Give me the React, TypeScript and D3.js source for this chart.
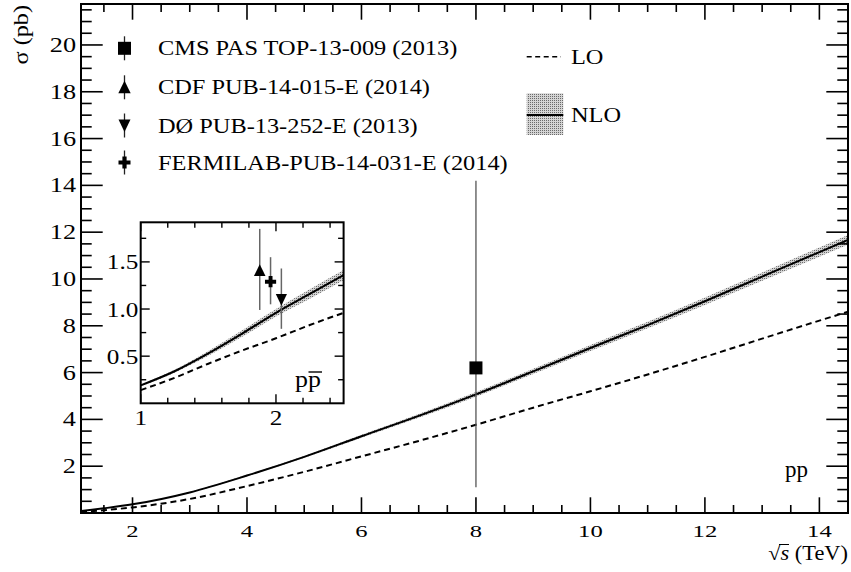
import React from "react";
import * as d3 from "d3";

const W = 851;
const H = 572;
const FONT = "'Liberation Serif', 'Times New Roman', serif";

// s-channel single-top cross sections, pp collisions (pb)
const energies = [1.1, 1.5, 2, 3, 4, 5, 6, 7, 8, 9, 10, 11, 12, 13, 14, 14.5];
const nloXsec = [0.08, 0.2, 0.37, 0.88, 1.6, 2.4, 3.28, 4.15, 5.07, 6.05, 7.05, 8.03, 9.05, 10.1, 11.15, 11.67];
const nloHigh = [0.085, 0.205, 0.378, 0.9, 1.63, 2.44, 3.34, 4.23, 5.17, 6.16, 7.18, 8.17, 9.21, 10.28, 11.35, 11.88];
const nloLow = [0.075, 0.195, 0.362, 0.865, 1.57, 2.36, 3.22, 4.07, 4.97, 5.94, 6.92, 7.89, 8.89, 9.92, 10.95, 11.46];
const loXsec = [0.04, 0.12, 0.24, 0.6, 1.15, 1.76, 2.42, 3.08, 3.77, 4.5, 5.2, 5.92, 6.67, 7.45, 8.22, 8.6];

// p-pbar collisions (inset)
const tevEnergies = [1.0, 1.25, 1.5, 1.75, 2.0, 2.25, 2.5];
const tevNlo = [0.19, 0.34, 0.53, 0.74, 0.96, 1.16, 1.36];
const tevNloHigh = [0.2, 0.355, 0.555, 0.775, 1.0, 1.21, 1.415];
const tevNloLow = [0.18, 0.325, 0.505, 0.705, 0.92, 1.11, 1.305];
const tevLo = [0.14, 0.27, 0.42, 0.56, 0.69, 0.83, 0.96];

// measurements
const measLabels = [
  "CMS PAS TOP-13-009 (2013)",
  "CDF PUB-14-015-E (2014)",
  "DØ PUB-13-252-E (2013)",
  "FERMILAB-PUB-14-031-E (2014)",
];
const measShapes = ["square", "up", "down", "cross"];
const measEnergy = [8, 1.88, 2.04, 1.96];
const measValue = [6.2, 1.41, 1.1, 1.29];
const measErrUp = [8.0, 0.44, 0.33, 0.26];
const measErrDown = [5.1, 0.42, 0.31, 0.24];
const measInInset = [false, true, true, true];

const xTicks = [2, 4, 6, 8, 10, 12, 14];
const yTicks = [2, 4, 6, 8, 10, 12, 14, 16, 18, 20];
const insetXTicks = [1, 2];
const insetYTicks = [0.5, 1.0, 1.5];

type TxtProps = {
  x: number;
  y: number;
  size: number;
  sx?: number;
  anchor?: "start" | "middle" | "end";
  rotate?: number;
  children: React.ReactNode;
};

function Txt({ x, y, size, sx = 1, anchor = "start", rotate = 0, children }: TxtProps) {
  return (
    <text
      transform={`translate(${x},${y}) rotate(${rotate}) scale(${sx},1)`}
      textAnchor={anchor}
      fontSize={size}
      fontFamily={FONT}
      fill="#000"
    >
      {children}
    </text>
  );
}

function Marker({ shape, cx, cy, s = 1 }: { shape: string; cx: number; cy: number; s?: number }) {
  if (shape === "square") {
    return <rect x={cx - 6.5 * s} y={cy - 6.5 * s} width={13 * s} height={13 * s} fill="#000" />;
  }
  if (shape === "up") {
    return (
      <polygon
        points={`${cx},${cy - 6.5 * s} ${cx + 6.2 * s},${cy + 6 * s} ${cx - 6.2 * s},${cy + 6 * s}`}
        fill="#000"
      />
    );
  }
  if (shape === "down") {
    return (
      <polygon
        points={`${cx},${cy + 6.5 * s} ${cx + 6 * s},${cy - 6 * s} ${cx - 6 * s},${cy - 6 * s}`}
        fill="#000"
      />
    );
  }
  const a = 6 * s;
  const t = 2.1 * s;
  return (
    <path
      d={`M${cx - t},${cy - a}H${cx + t}V${cy - t}H${cx + a}V${cy + t}H${cx + t}V${cy + a}H${cx - t}V${cy + t}H${cx - a}V${cy - t}H${cx - t}Z`}
      fill="#000"
    />
  );
}

export default function App() {
  // main frame
  const L = 81, R = 848, T = 4, B = 513;
  const x = d3.scaleLinear().domain([1.1, 14.5]).range([L, R]);
  const y = d3.scaleLinear().domain([0, 21.75]).range([B, T]);

  // inset frame
  const iL = 140.7, iR = 343.6, iT = 222.3, iB = 403.3;
  const ix = d3.scaleLinear().domain([1, 2.5]).range([iL, iR]);
  const iy = d3.scaleLinear().domain([0, 1.92]).range([iB, iT]);

  const idx = energies.map((_, i) => i);
  const tidx = tevEnergies.map((_, i) => i);

  const lineMain = (vals: number[]) =>
    d3.line<number>().x((i) => x(energies[i])).y((i) => y(vals[i])).curve(d3.curveMonotoneX)(idx) || "";
  const bandMain =
    d3
      .area<number>()
      .x((i) => x(energies[i]))
      .y0((i) => y(nloLow[i]))
      .y1((i) => y(nloHigh[i]))
      .curve(d3.curveMonotoneX)(idx) || "";

  const lineTev = (vals: number[]) =>
    d3.line<number>().x((i) => ix(tevEnergies[i])).y((i) => iy(vals[i])).curve(d3.curveMonotoneX)(tidx) || "";
  const bandTev =
    d3
      .area<number>()
      .x((i) => ix(tevEnergies[i]))
      .y0((i) => iy(tevNloLow[i]))
      .y1((i) => iy(tevNloHigh[i]))
      .curve(d3.curveMonotoneX)(tidx) || "";

  const xMinor = d3.range(1.5, 14.5, 0.5).filter((v) => Math.abs(v / 2 - Math.round(v / 2)) > 1e-6);
  const yMinor = d3.range(0.5, 21.75, 0.5).filter((v) => Math.abs(v / 2 - Math.round(v / 2)) > 1e-6);
  const ixMinor = d3.range(1.2, 2.5, 0.2).filter((v) => Math.abs(v - 2) > 1e-6);
  const iyMinor = [0.25, 0.75, 1.25, 1.75];

  const xMajLen = 15.7, xMinLen = 8;
  const yMajLen = 21.7, yMinLen = 10.7;
  const iMaj = 9, iMin = 5.5;

  const legRows = [48.3, 87.3, 125.5, 162.5];

  return (
    <svg width={W} height={H} style={{ position: "absolute", left: 0, top: 0, background: "#fff" }}>
      <defs>
        <pattern id="stipple" width="2" height="2" patternUnits="userSpaceOnUse">
          <rect width="2" height="2" fill="#d4d4d4" />
          <rect width="1" height="1" fill="#6a6a6a" />
        </pattern>
        <clipPath id="mainClip">
          <rect x={L} y={T} width={R - L} height={B - T} />
        </clipPath>
        <clipPath id="insetClip">
          <rect x={iL} y={iT} width={iR - iL} height={iB - iT} />
        </clipPath>
      </defs>
      <rect width={W} height={H} fill="#fff" />

      {/* main curves */}
      <g clipPath="url(#mainClip)">
        <path d={bandMain} fill="url(#stipple)" />
        <path d={lineMain(loXsec)} fill="none" stroke="#000" strokeWidth={2} strokeDasharray="6,4" />
        <path d={lineMain(nloXsec)} fill="none" stroke="#000" strokeWidth={2} />
      </g>

      {/* pp measurement */}
      {measEnergy.map((e, i) =>
        measInInset[i] ? null : (
          <g key={`m${i}`}>
            <line
              x1={x(e)}
              x2={x(e)}
              y1={y(measValue[i] + measErrUp[i])}
              y2={y(measValue[i] - measErrDown[i])}
              stroke="#555"
              strokeWidth={1.3}
            />
            <Marker shape={measShapes[i]} cx={x(e)} cy={y(measValue[i])} />
          </g>
        )
      )}

      {/* main frame ticks */}
      <g stroke="#000" strokeWidth={1.6}>
        {xTicks.map((v) => (
          <g key={`xt${v}`}>
            <line x1={x(v)} x2={x(v)} y1={B} y2={B - xMajLen} />
            <line x1={x(v)} x2={x(v)} y1={T} y2={T + xMajLen} />
          </g>
        ))}
        {xMinor.map((v) => (
          <g key={`xm${v}`}>
            <line x1={x(v)} x2={x(v)} y1={B} y2={B - xMinLen} />
            <line x1={x(v)} x2={x(v)} y1={T} y2={T + xMinLen} />
          </g>
        ))}
        {yTicks.map((v) => (
          <g key={`yt${v}`}>
            <line x1={L} x2={L + yMajLen} y1={y(v)} y2={y(v)} />
            <line x1={R} x2={R - yMajLen} y1={y(v)} y2={y(v)} />
          </g>
        ))}
        {yMinor.map((v) => (
          <g key={`ym${v}`}>
            <line x1={L} x2={L + yMinLen} y1={y(v)} y2={y(v)} />
            <line x1={R} x2={R - yMinLen} y1={y(v)} y2={y(v)} />
          </g>
        ))}
      </g>
      <rect x={L} y={T} width={R - L} height={B - T} fill="none" stroke="#000" strokeWidth={2} />

      {/* axis labels */}
      {xTicks.map((v) => (
        <Txt key={`xl${v}`} x={x(v)} y={537} size={17} sx={1.45} anchor="middle">
          {v}
        </Txt>
      ))}
      {yTicks.map((v) => (
        <Txt key={`yl${v}`} x={76} y={y(v) + 7} size={21} sx={1.25} anchor="end">
          {v}
        </Txt>
      ))}
      <text
        transform={`translate(${R},560) scale(1.12,1)`}
        textAnchor="end"
        fontSize={20}
        fontFamily={FONT}
      >
        <tspan>√</tspan>
        <tspan fontStyle="italic">s</tspan>
        <tspan> (TeV)</tspan>
      </text>
      <line x1={779} x2={789} y1={544.5} y2={544.5} stroke="#000" strokeWidth={1} />
      <Txt x={28} y={5} size={22} rotate={-90} sx={1.1} anchor="end">
        σ (pb)
      </Txt>
      <Txt x={808} y={476.7} size={23} anchor="end">
        pp
      </Txt>

      {/* measurement legend */}
      {measLabels.map((lab, i) => (
        <g key={`lg${i}`}>
          <line x1={124.5} x2={124.5} y1={legRows[i] - 12} y2={legRows[i] + 12} stroke="#222" strokeWidth={1.3} />
          <Marker shape={measShapes[i]} cx={124.5} cy={legRows[i]} />
          <Txt x={158} y={legRows[i] + 7} size={21} sx={1.16}>
            {lab}
          </Txt>
        </g>
      ))}

      {/* theory legend */}
      <line x1={526.7} x2={561} y1={56.7} y2={56.7} stroke="#000" strokeWidth={1.6} strokeDasharray="5,3.5" />
      <Txt x={571} y={63.7} size={21} sx={1.16}>
        LO
      </Txt>
      <rect x={526.7} y={93.3} width={36.6} height={41.7} fill="url(#stipple)" />
      <line x1={526.7} x2={563.3} y1={115} y2={115} stroke="#000" strokeWidth={2} />
      <Txt x={571} y={122} size={21} sx={1.16}>
        NLO
      </Txt>

      {/* inset: p-pbar */}
      <rect x={iL} y={iT} width={iR - iL} height={iB - iT} fill="#fff" />
      <g clipPath="url(#insetClip)">
        <path d={bandTev} fill="url(#stipple)" />
        <path d={lineTev(tevLo)} fill="none" stroke="#000" strokeWidth={2} strokeDasharray="6,4" />
        <path d={lineTev(tevNlo)} fill="none" stroke="#000" strokeWidth={2} />
      </g>
      {measEnergy.map((e, i) =>
        measInInset[i] ? (
          <g key={`im${i}`}>
            <line
              x1={ix(e)}
              x2={ix(e)}
              y1={iy(measValue[i] + measErrUp[i])}
              y2={iy(measValue[i] - measErrDown[i])}
              stroke="#666"
              strokeWidth={1.5}
            />
            <Marker shape={measShapes[i]} cx={ix(e)} cy={iy(measValue[i])} s={0.93} />
          </g>
        ) : null
      )}
      <g stroke="#000" strokeWidth={1.4}>
        {insetXTicks.map((v) => (
          <g key={`ixt${v}`}>
            <line x1={ix(v)} x2={ix(v)} y1={iB} y2={iB - iMaj} />
            <line x1={ix(v)} x2={ix(v)} y1={iT} y2={iT + iMaj} />
          </g>
        ))}
        {ixMinor.map((v) => (
          <g key={`ixm${v}`}>
            <line x1={ix(v)} x2={ix(v)} y1={iB} y2={iB - iMin} />
            <line x1={ix(v)} x2={ix(v)} y1={iT} y2={iT + iMin} />
          </g>
        ))}
        {insetYTicks.map((v) => (
          <g key={`iyt${v}`}>
            <line x1={iL} x2={iL + iMaj} y1={iy(v)} y2={iy(v)} />
            <line x1={iR} x2={iR - iMaj} y1={iy(v)} y2={iy(v)} />
          </g>
        ))}
        {iyMinor.map((v) => (
          <g key={`iym${v}`}>
            <line x1={iL} x2={iL + iMin} y1={iy(v)} y2={iy(v)} />
            <line x1={iR} x2={iR - iMin} y1={iy(v)} y2={iy(v)} />
          </g>
        ))}
      </g>
      <rect x={iL} y={iT} width={iR - iL} height={iB - iT} fill="none" stroke="#000" strokeWidth={2} />
      {insetXTicks.map((v) => (
        <Txt key={`ixl${v}`} x={ix(v)} y={425} size={21} sx={1.2} anchor="middle">
          {v}
        </Txt>
      ))}
      {insetYTicks.map((v) => (
        <Txt key={`iyl${v}`} x={138.3} y={iy(v) + 7.5} size={21} sx={1.2} anchor="end">
          {v.toFixed(1)}
        </Txt>
      ))}
      <Txt x={295} y={387} size={24} sx={1.08}>
        pp
      </Txt>
      <line x1={308.5} x2={322} y1={372} y2={372} stroke="#000" strokeWidth={1.4} />
    </svg>
  );
}
